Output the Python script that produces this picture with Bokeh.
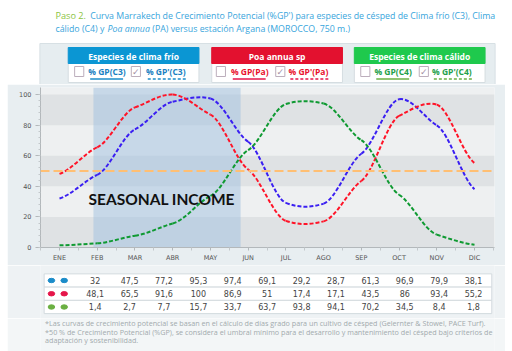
import numpy as np
from bokeh.plotting import figure
from bokeh.models import Range1d, FixedTicker, BoxAnnotation, Span, Label
from bokeh.layouts import column
from bokeh.embed import file_html
from bokeh.resources import INLINE
from bokeh.core.properties import value

# ---------------- data ----------------
months = ["ENE", "FEB", "MAR", "ABR", "MAY", "JUN", "JUL", "AGO", "SEP", "OCT", "NOV", "DIC"]
gp_c3 = [32, 47.5, 77.2, 95.3, 97.4, 69.1, 29.2, 28.7, 61.3, 96.9, 79.9, 38.1]
gp_pa = [48.1, 65.5, 91.6, 100, 86.9, 51, 17.4, 17.1, 43.5, 86, 93.4, 55.2]
gp_c4 = [1.4, 2.7, 7.7, 15.7, 33.7, 63.7, 93.8, 94.1, 70.2, 34.5, 8.4, 1.8]
threshold = 50
season_span = (0.9, 4.8)
season_label = "SEASONAL INCOME"

C3_LINE, PA_LINE, C4_LINE = "#3a1ff2", "#ff1428", "#0f9a32"
C3_UI, PA_UI, C4_UI = "#1b8cc9", "#e5164a", "#6bb043"


def spline_segments(ys, k=0.5):
    """Cardinal-spline bezier segments through the data points (rendering only)."""
    n = len(ys)
    xs = list(range(n))
    m = []
    for i in range(n):
        if i == 0:
            m.append(k * (ys[1] - ys[0]))
        elif i == n - 1:
            m.append(k * (ys[-1] - ys[-2]))
        else:
            m.append(k * (ys[i + 1] - ys[i - 1]) / 2.0)
    seg = dict(x0=[], y0=[], x1=[], y1=[], cx0=[], cy0=[], cx1=[], cy1=[])
    for i in range(n - 1):
        seg["x0"].append(xs[i]); seg["y0"].append(ys[i])
        seg["x1"].append(xs[i + 1]); seg["y1"].append(ys[i + 1])
        seg["cx0"].append(xs[i] + 1 / 3); seg["cy0"].append(ys[i] + m[i] / 3)
        seg["cx1"].append(xs[i + 1] - 1 / 3); seg["cy1"].append(ys[i + 1] - m[i + 1] / 3)
    return seg


def bare(fig):
    fig.xgrid.visible = False
    fig.ygrid.visible = False
    return fig


SANS = value("Open Sans")

# ---------------- header ----------------
head = figure(width=512, height=84, x_range=Range1d(0, 512), y_range=Range1d(84, 0),
              output_backend="svg", toolbar_location=None, min_border=0,
              x_axis_location=None, y_axis_location=None,
              background_fill_color="white", border_fill_color="white", outline_line_color=None)
bare(head)
head.quad(left=[7], right=[505], top=[43], bottom=[86], fill_color="#e6edf0", line_color="#d7e0e4")

title_blue = "#38a5dc"
head.text(x=[24], y=[15], text=["Paso 2."], text_font=SANS, text_font_size="9.2px",
          text_color="#8cc43f", text_baseline="middle")
head.text(x=[62], y=[15], text=["Curva Marrakech de Crecimiento Potencial (%GP') para especies de césped de Clima frío (C3), Clima"],
          text_font=SANS, text_font_size="8.8px", text_color=title_blue, text_baseline="middle")
head.text(x=[24], y=[28], text=["cálido (C4) y"], text_font=SANS, text_font_size="8.8px",
          text_color=title_blue, text_baseline="middle")
head.text(x=[81], y=[28], text=["Poa annua"], text_font=SANS, text_font_size="8.8px",
          text_font_style="italic", text_color=title_blue, text_baseline="middle")
head.text(x=[130], y=[28], text=["(PA) versus estación Argana (MOROCCO, 750 m.)"], text_font=SANS,
          text_font_size="8.8px", text_color=title_blue, text_baseline="middle")

boxes = [
    (38, 181, "#0b96d3", "Especies de clima frío", C3_UI, "#1a7fc1", "C3", 45, 60, 107, 123),
    (195, 338, "#e3112f", "Poa annua sp", PA_UI, "#e8112d", "Pa", 200, 216, 265, 279),
    (351, 494, "#1fc94d", "Especies de clima cálido", C4_UI, "#22a04a", "C4", 358, 373, 422, 436),
]
for (l, r, hc, htxt, uic, tc, tag, cb1, t1, cb2, t2) in boxes:
    head.quad(left=[l], right=[r], top=[47], bottom=[82], fill_color="white", line_color="#d5dde1")
    head.quad(left=[l], right=[r], top=[47], bottom=[63], fill_color=hc, line_color=hc)
    head.text(x=[(l + r) / 2], y=[55.5], text=[htxt], text_font=SANS, text_font_style="bold",
              text_font_size="8.5px", text_color="white", text_align="center", text_baseline="middle")
    for cb in (cb1, cb2):
        head.quad(left=[cb], right=[cb + 10], top=[66], bottom=[76], fill_color="white",
                  line_color="#bcaebc", line_width=1)
    head.text(x=[cb2 + 5], y=[71.5], text=["✓"], text_font=value("DejaVu Sans"), text_font_size="9px",
              text_color="#a48fa4", text_align="center", text_baseline="middle")
    head.text(x=[t1], y=[71], text=["% GP(" + tag + ")"], text_font=SANS, text_font_style="bold",
              text_font_size="8.5px", text_color=tc, text_baseline="middle")
    head.text(x=[t2], y=[71], text=["% GP'(" + tag + ")"], text_font=SANS, text_font_style="bold",
              text_font_size="8.5px", text_color=tc, text_baseline="middle")
    head.segment(x0=[t1 + 2], y0=[78.5], x1=[t1 + 38], y1=[78.5], line_color=uic, line_width=1.5)
    head.segment(x0=[t2 + 2], y0=[78.5], x1=[t2 + 45], y1=[78.5], line_color=uic, line_width=1.5,
                 line_dash="3 2")

# ---------------- chart ----------------
p = figure(width=498, height=181, x_range=Range1d(-0.504, 11.53), y_range=Range1d(0, 104.6),
           output_backend="svg", toolbar_location=None, margin=(0, 0, 0, 7),
           min_border_left=33, min_border_right=11, min_border_top=3, min_border_bottom=18,
           background_fill_color="#eef0f1", border_fill_color="#e8eef1", outline_line_color=None)
bare(p)
for lo, hi in ((0, 20), (40, 60), (80, 100)):
    p.add_layout(BoxAnnotation(bottom=lo, top=hi, fill_color="#dfe2e4", fill_alpha=1.0,
                               line_color=None, level="underlay"))
p.add_layout(BoxAnnotation(left=season_span[0], right=season_span[1], fill_color="#9fc0df",
                           fill_alpha=0.5, line_color=None, level="underlay"))

p.add_layout(Span(location=threshold, dimension="width", line_color="#ffbf73", line_width=2,
                  line_dash="9 4"))

for ys, col in ((gp_c3, C3_LINE), (gp_pa, PA_LINE), (gp_c4, C4_LINE)):
    seg = spline_segments(ys)
    p.bezier(x0=seg["x0"], y0=seg["y0"], x1=seg["x1"], y1=seg["y1"], cx0=seg["cx0"], cy0=seg["cy0"],
             cx1=seg["cx1"], cy1=seg["cy1"], line_color=col, line_width=2, line_dash="4 2")

p.add_layout(Label(x=0.77, y=32, text=season_label, text_font="Lato", text_font_style="bold",
                   text_font_size="15.5px", text_color="#111111", text_baseline="middle"))

p.xaxis.ticker = FixedTicker(ticks=list(range(12)), minor_ticks=[i + 0.5 for i in range(-1, 12)])
p.xaxis.major_label_overrides = {i: m for i, m in enumerate(months)}
p.yaxis.ticker = FixedTicker(ticks=[0, 20, 40, 60, 80, 100], minor_ticks=list(range(0, 104, 4)))
for ax in (p.xaxis[0], p.yaxis[0]):
    ax.axis_line_color = "#b3b8bb"
    ax.major_tick_line_color = "#b3b8bb"
    ax.minor_tick_line_color = "#c3c8cb"
    ax.major_label_text_font = "DejaVu Sans"
    ax.major_label_text_font_size = "6.5px"
    ax.major_label_text_color = "#555555"
p.xaxis.major_tick_out = 3
p.xaxis.major_tick_in = 0
p.xaxis.minor_tick_out = 3
p.xaxis.minor_tick_in = 0
p.xaxis.major_label_standoff = 3
p.yaxis.major_tick_out = 5
p.yaxis.major_tick_in = 0
p.yaxis.minor_tick_out = 2
p.yaxis.minor_tick_in = 0
p.yaxis.major_label_standoff = 4

# ---------------- table ----------------
tx0, tx1 = -1.590, 11.609
t = figure(width=498, height=53, x_range=Range1d(tx0, tx1), y_range=Range1d(2.868, -1.132),
           output_backend="svg", toolbar_location=None, margin=(0, 0, 0, 7), min_border=0,
           x_axis_location=None, y_axis_location=None,
           background_fill_color="#eef2f4", border_fill_color="#eef2f4", outline_line_color=None)
bare(t)
rows = [(gp_c3, C3_UI), (gp_pa, PA_UI), (gp_c4, C4_UI)]
t.quad(left=[-1.484] * 3, right=[11.53] * 3, top=[r - 0.5 for r in range(3)],
       bottom=[r + 0.5 for r in range(3)], fill_color="white", line_color="#d3dade", line_width=1)
for r, (vals, col) in enumerate(rows):
    t.ellipse(x=[-1.272, -0.901], y=[r, r], width=0.19, height=0.33, fill_color=col, line_color=col)
    labels = [("%g" % v).replace(".", ",") for v in vals]
    t.text(x=list(range(12)), y=[r] * 12, text=labels, text_font=value("DejaVu Sans"),
           text_font_size="8px", text_color="#444444", text_align="center", text_baseline="middle")

# ---------------- footnotes ----------------
f = figure(width=498, height=33, x_range=Range1d(7, 505), y_range=Range1d(351, 318),
           output_backend="svg", toolbar_location=None, margin=(0, 0, 0, 7), min_border=0,
           x_axis_location=None, y_axis_location=None,
           background_fill_color="#f3f6f7", border_fill_color="#f3f6f7", outline_line_color=None)
bare(f)
notes = [
    "*Las curvas de crecimiento potencial se basan en el cálculo de días grado para un cultivo de césped (Gelernter & Stowel, PACE Turf).",
    "*50 % de Crecimiento Potencial (%GP), se considera el umbral mínimo para el desarrollo y mantenimiento del césped bajo criterios de",
    "adaptación y sostenibilidad.",
]
f.text(x=[12, 12, 12], y=[322, 331, 339.5], text=notes, text_font=SANS, text_font_size="7.2px",
       text_color="#a2aaad", text_baseline="middle")

layout = column(head, p, t, f, spacing=0)
open("out.html", "w").write(file_html(layout, INLINE))
